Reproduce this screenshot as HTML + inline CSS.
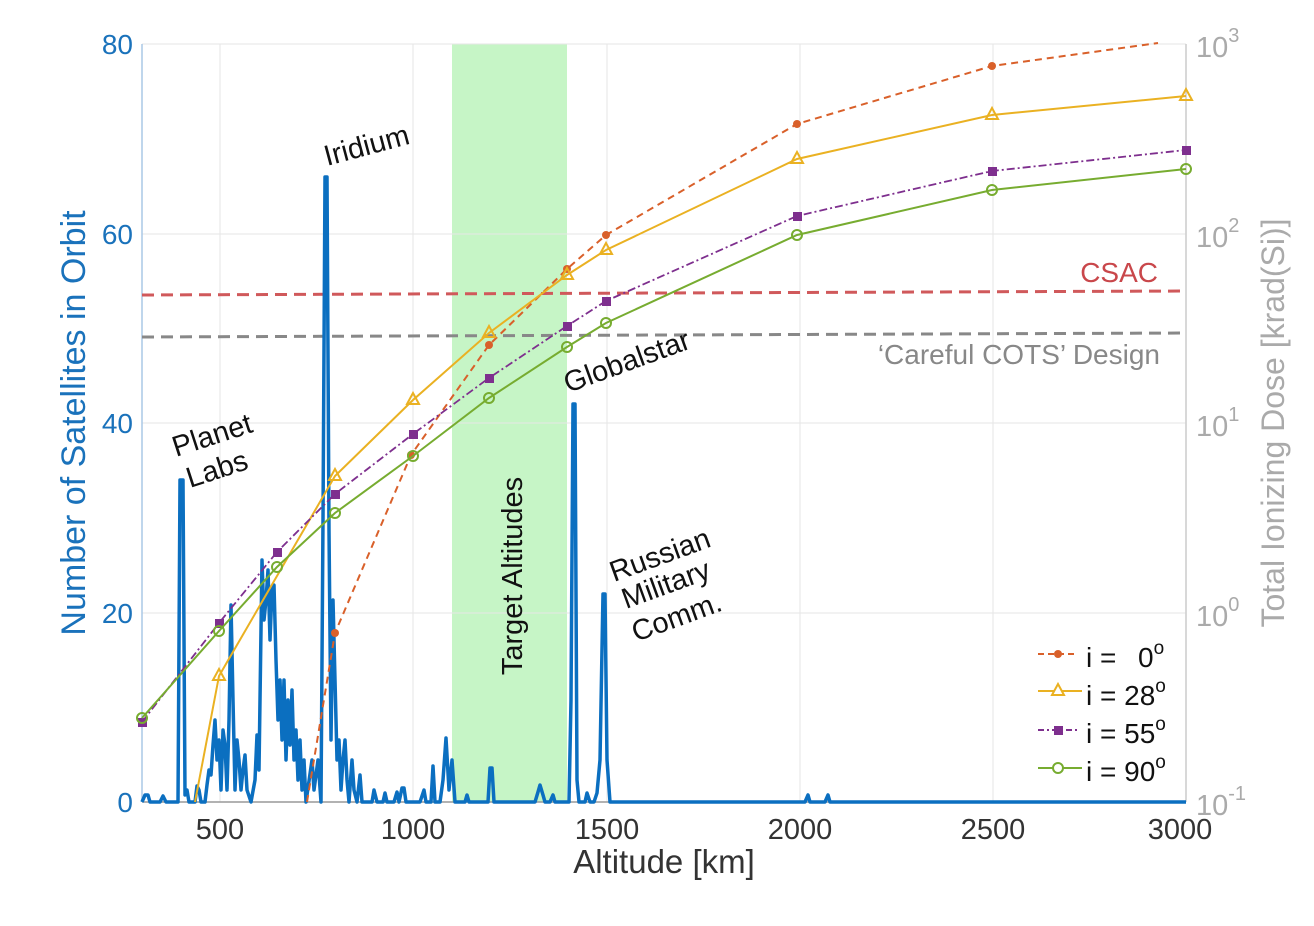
<!DOCTYPE html>
<html><head><meta charset="utf-8"><style>
html,body{margin:0;padding:0;background:#fff;}
svg{display:block;font-family:"Liberation Sans",sans-serif;}
</style></head><body>
<svg width="1314" height="926" viewBox="0 0 1314 926" xmlns="http://www.w3.org/2000/svg">
<rect x="452" y="44" width="115" height="758" fill="#c6f5c6"/>
<g stroke="#e6e6e6" stroke-width="1">
<line x1="220" y1="44" x2="220" y2="802"/><line x1="413" y1="44" x2="413" y2="802"/>
<line x1="607" y1="44" x2="607" y2="802"/><line x1="800" y1="44" x2="800" y2="802"/>
<line x1="993" y1="44" x2="993" y2="802"/>
<line x1="142" y1="44" x2="1186" y2="44"/><line x1="142" y1="234" x2="1186" y2="234"/>
<line x1="142" y1="423" x2="1186" y2="423"/><line x1="142" y1="613" x2="1186" y2="613"/>
</g>
<line x1="142" y1="44" x2="142" y2="802" stroke="#aac8e6" stroke-width="1.5"/>
<line x1="1186" y1="44" x2="1186" y2="802" stroke="#ccc" stroke-width="1.5"/>
<line x1="142" y1="802" x2="1186" y2="802" stroke="#999" stroke-width="1.5"/>
<line x1="142" y1="295" x2="1186" y2="291" stroke="#d0595b" stroke-width="3" stroke-dasharray="12,7"/>
<line x1="142" y1="337" x2="1186" y2="333" stroke="#888" stroke-width="3" stroke-dasharray="12,7"/>
<text x="1158" y="282" font-size="28" fill="#c9474b" text-anchor="end">CSAC</text>
<text x="1160" y="364" font-size="28" fill="#888" text-anchor="end">‘Careful COTS’ Design</text>
<polyline fill="none" stroke="#0b6fc0" stroke-width="3.5" stroke-linejoin="round" points="142,802 145,795 148,795 150,802 160,802 163,796 166,802 178,802 180,480 183,480 185,795 187,790 189,802 195,802 197,786 199,790 201,802 205,802 207,785 209,770 211,775 213,745 215,720 217,760 219,740 221,790 223,730 225,745 227,790 229,720 231,605 233,700 235,790 237,740 239,760 241,790 243,770 245,755 247,790 251,802 255,780 257,735 259,770 262,560 264,620 266,600 268,570 270,640 272,590 274,585 276,660 278,720 280,680 282,740 284,680 286,760 288,700 290,745 292,690 294,760 296,730 298,780 300,740 302,790 304,760 306,802 312,760 314,790 318,760 321,802 323,520 325,177 327,177 329,530 331,740 333,600 335,680 337,760 339,740 341,790 343,760 345,740 347,780 349,802 352,760 354,790 357,802 360,775 362,802 372,802 374,790 377,802 383,802 385,793 387,802 394,802 397,792 399,802 402,788 404,788 406,802 414,802 420,802 424,790 426,802 431,802 433,766 435,802 440,802 443,780 446,738 449,790 452,760 455,802 465,802 467,795 469,802 488,802 490,768 492,768 494,802 535,802 538,792 540,785 543,795 545,802 550,802 553,795 555,802 569,802 571,700 573,404 575,404 577,780 579,802 585,802 587,793 590,802 594,802 597,793 600,760 603,594 605,594 607,760 610,802 805,802 808,795 810,802 825,802 828,795 830,802 1186,802"/>
<polyline fill="none" stroke="#d9602a" stroke-width="2" stroke-dasharray="7,5" points="307,802 335,633 411,455 489,345 567,269 606,235 797,124 992,66 1158,43"/>
<g fill="#d9602a"><circle cx="335" cy="633" r="4"/><circle cx="411" cy="455" r="4"/><circle cx="489" cy="345" r="4"/><circle cx="567" cy="269" r="4"/><circle cx="606" cy="235" r="4"/><circle cx="797" cy="124" r="4"/><circle cx="992" cy="66" r="4"/></g>
<polyline fill="none" stroke="#eab122" stroke-width="2" points="195,802 219,676 335,476 413,400 489,333 567,275 606,250 797,159 992,115 1186,96"/>
<g fill="none" stroke="#eab122" stroke-width="2">
<path d="M219,669 l6,11 h-12z"/><path d="M335,469 l6,11 h-12z"/><path d="M413,393 l6,11 h-12z"/><path d="M489,326 l6,11 h-12z"/><path d="M567,268 l6,11 h-12z"/><path d="M606,243 l6,11 h-12z"/><path d="M797,152 l6,11 h-12z"/><path d="M992,108 l6,11 h-12z"/><path d="M1186,89 l6,11 h-12z"/></g>
<polyline fill="none" stroke="#7e2f8e" stroke-width="1.8" stroke-dasharray="8,3,2,3" points="142,722 219,623 277,552 335,494 413,434 489,378 567,326 606,301 797,216 992,171 1186,150"/>
<g fill="#7e2f8e"><rect x="138" y="718" width="9" height="9"/><rect x="215" y="619" width="9" height="9"/><rect x="273" y="548" width="9" height="9"/><rect x="331" y="490" width="9" height="9"/><rect x="409" y="430" width="9" height="9"/><rect x="485" y="374" width="9" height="9"/><rect x="563" y="322" width="9" height="9"/><rect x="602" y="297" width="9" height="9"/><rect x="793" y="212" width="9" height="9"/><rect x="988" y="167" width="9" height="9"/><rect x="1182" y="146" width="9" height="9"/></g>
<polyline fill="none" stroke="#77ac30" stroke-width="2" points="142,718 219,631 277,567 335,513 413,456 489,398 567,347 606,323 797,235 992,190 1186,169"/>
<g fill="none" stroke="#77ac30" stroke-width="2"><circle cx="142" cy="718" r="5"/><circle cx="219" cy="631" r="5"/><circle cx="277" cy="567" r="5"/><circle cx="335" cy="513" r="5"/><circle cx="413" cy="456" r="5"/><circle cx="489" cy="398" r="5"/><circle cx="567" cy="347" r="5"/><circle cx="606" cy="323" r="5"/><circle cx="797" cy="235" r="5"/><circle cx="992" cy="190" r="5"/><circle cx="1186" cy="169" r="5"/></g>
<g font-size="28" fill="#1a72bb" text-anchor="end">
<text x="133" y="54">80</text><text x="133" y="244">60</text><text x="133" y="433">40</text><text x="133" y="623">20</text><text x="133" y="812">0</text></g>
<g font-size="29" fill="#333" text-anchor="middle">
<text x="220" y="839">500</text><text x="413" y="839">1000</text><text x="607" y="839">1500</text><text x="800" y="839">2000</text><text x="993" y="839">2500</text><text x="1180" y="839">3000</text></g>
<g font-size="29" fill="#aaa">
<text x="1196" y="57">10<tspan dy="-15" font-size="20">3</tspan></text>
<text x="1196" y="247">10<tspan dy="-15" font-size="20">2</tspan></text>
<text x="1196" y="436">10<tspan dy="-15" font-size="20">1</tspan></text>
<text x="1196" y="626">10<tspan dy="-15" font-size="20">0</tspan></text>
<text x="1196" y="815">10<tspan dy="-15" font-size="20">-1</tspan></text></g>
<text x="664" y="873" font-size="33" fill="#333" text-anchor="middle">Altitude [km]</text>
<text transform="translate(85,423) rotate(-90)" font-size="34" fill="#1a72bb" text-anchor="middle">Number of Satellites in Orbit</text>
<text transform="translate(1284,423) rotate(-90)" font-size="32" fill="#aaa" text-anchor="middle">Total Ionizing Dose [krad(Si)]</text>
<g font-size="29" fill="#111">
<text transform="translate(327,166) rotate(-15)">Iridium</text>
<text transform="translate(176,457) rotate(-18)">Planet</text>
<text transform="translate(190,488) rotate(-18)">Labs</text>
<text transform="translate(568,393) rotate(-20)">Globalstar</text>
<text transform="translate(614,582) rotate(-20)">Russian</text>
<text transform="translate(626,609) rotate(-20)">Military</text>
<text transform="translate(636,642) rotate(-20)">Comm.</text>
<text transform="translate(522,576) rotate(-90)" text-anchor="middle">Target Altitudes</text>
</g>
<g stroke-width="2">
<line x1="1038" y1="654" x2="1076" y2="654" stroke="#d9602a" stroke-dasharray="6,4"/><circle cx="1058" cy="654" r="4" fill="#d9602a"/>
<line x1="1038" y1="691" x2="1082" y2="691" stroke="#eab122"/><path d="M1058,684 l6,11 h-12z" fill="#fff" stroke="#eab122"/>
<line x1="1038" y1="730" x2="1080" y2="730" stroke="#7e2f8e" stroke-dasharray="6,3,2,3"/><rect x="1054" y="726" width="9" height="9" fill="#7e2f8e"/>
<line x1="1038" y1="768" x2="1082" y2="768" stroke="#77ac30"/><circle cx="1058" cy="768" r="5" fill="#fff" stroke="#77ac30"/>
</g>
<g font-size="28" fill="#111">
<text x="1086" y="667">i =   <tspan x="1138">0</tspan><tspan dy="-13" font-size="19">o</tspan></text>
<text x="1086" y="705">i = 28<tspan dy="-13" font-size="19">o</tspan></text>
<text x="1086" y="743">i = 55<tspan dy="-13" font-size="19">o</tspan></text>
<text x="1086" y="781">i = 90<tspan dy="-13" font-size="19">o</tspan></text>
</g>
</svg>
</body></html>
